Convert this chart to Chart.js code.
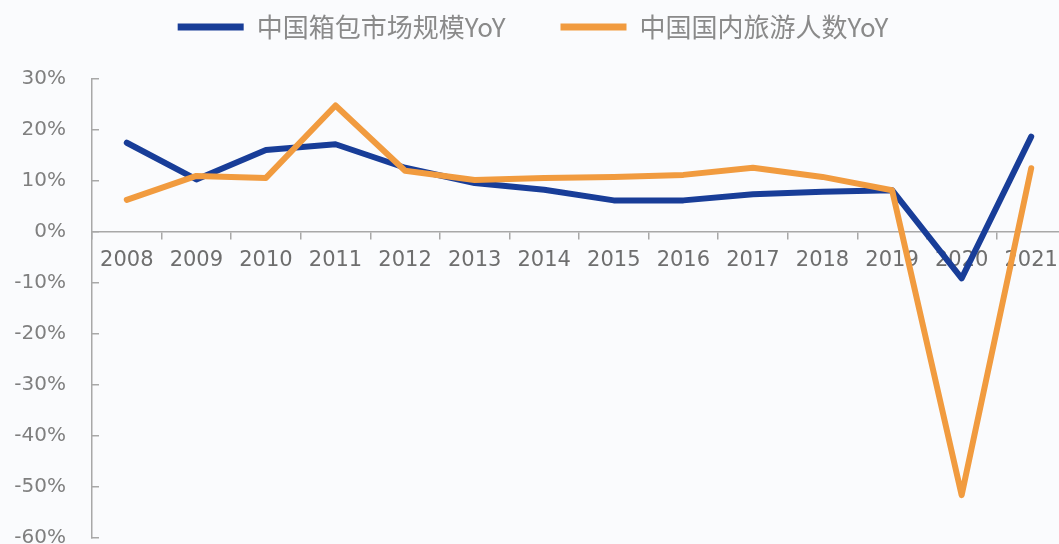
<!DOCTYPE html>
<html>
<head>
<meta charset="utf-8">
<script src="https://cdn.jsdelivr.net/npm/chart.js@4.4.1/dist/chart.umd.min.js"></script>
<style>
  html, body {
    margin: 0;
    padding: 0;
    width: 1059px;
    height: 544px;
    overflow: hidden;
    background: #fafbfd;
  }
  #wrap {
    position: absolute;
    left: 0;
    top: -41px;
    width: 1096px;
    height: 624px;
  }
</style>
</head>
<body>
<div id="wrap"><canvas id="yoyChart"></canvas></div>
<script>
const years = ["2008", "2009", "2010", "2011", "2012", "2013", "2014",
  "2015", "2016", "2017", "2018", "2019", "2020", "2021"];

// 中国箱包市场规模YoY (%)
const bagMarketYoY = [17.5, 10.3, 16.1, 17.2, 12.6, 9.6, 8.3,
  6.2, 6.2, 7.4, 7.9, 8.2, -9.1, 18.7];

// 中国国内旅游人数YoY (%)
const domesticTripsYoY = [6.3, 11.0, 10.6, 24.8, 12.0, 10.2, 10.6,
  10.8, 11.2, 12.6, 10.8, 8.2, -51.6, 12.5];

const seriesNames = ["中国箱包市场规模YoY", "中国国内旅游人数YoY"];
const yMin = -60;
const yMax = 30;
const yStep = 10;

const BLUE = "#183d98";
const ORANGE = "#f19b3f";
const AXIS = "#a8a8a8";

let myChart = null;

function loadChart() {
  let ctx = document.getElementById("yoyChart").getContext("2d");
  myChart = new Chart(ctx, {
    type: "line",
    data: {
      labels: years,
      datasets: [
        {
          label: seriesNames[0],
          data: bagMarketYoY,
          borderColor: BLUE,
          backgroundColor: BLUE,
          borderWidth: 6,
          borderCapStyle: "round",
          borderJoinStyle: "round",
          pointRadius: 0,
          tension: 0,
          order: 1,
        },
        {
          label: seriesNames[1],
          data: domesticTripsYoY,
          borderColor: ORANGE,
          backgroundColor: ORANGE,
          borderWidth: 6,
          borderCapStyle: "round",
          borderJoinStyle: "round",
          pointRadius: 0,
          tension: 0,
          order: 0,
        },
      ],
    },
    options: {
      responsive: true,
      maintainAspectRatio: false,
      animation: false,
      layout: { padding: { top: 0, right: 30, bottom: 0, left: 0 } },
      plugins: {
        tooltip: { enabled: false },
        // empty spacer between legend and plot
        subtitle: {
          display: true,
          text: " ",
          position: "top",
          weight: 500,
          padding: 0,
          font: { size: 29, lineHeight: 1 },
        },
        legend: {
          position: "top",
          labels: {
            usePointStyle: true,
            pointStyle: "line",
            pointStyleWidth: 66,
            padding: 55,
            color: "#8a8a8a",
            font: { family: "'Noto Sans CJK SC', 'Noto Sans'", size: 26 },
            sort: (a, b) => a.datasetIndex - b.datasetIndex,
            generateLabels: function (chart) {
              let items = Chart.defaults.plugins.legend.labels.generateLabels(chart);
              items.forEach((it) => { it.lineWidth = 7; });
              return items;
            },
          },
        },
      },
      scales: {
        x: {
          position: { y: 0 },
          offset: true,
          afterFit: (scale) => { scale.height = 40; },
          border: { display: true, color: AXIS, width: 1.5 },
          grid: {
            display: true,
            drawOnChartArea: false,
            drawTicks: true,
            tickLength: 7,
            color: AXIS,
            lineWidth: 1.5,
            offset: true,
          },
          ticks: {
            color: "#6e6e6e",
            padding: 9,
            maxRotation: 0,
            autoSkip: false,
            font: { family: "'DejaVu Sans'", size: 21 },
          },
        },
        y: {
          min: yMin,
          max: yMax,
          afterFit: (scale) => { scale.width = 92; },
          border: { display: true, color: AXIS, width: 1.5 },
          grid: {
            display: true,
            drawOnChartArea: false,
            drawTicks: true,
            tickLength: -7,
            color: AXIS,
            lineWidth: 1.5,
          },
          ticks: {
            stepSize: yStep,
            color: "#7f7f7f",
            padding: 33,
            font: { family: "'DejaVu Sans'", size: 20 },
            callback: (v) => v + "%",
          },
        },
      },
    },
  });
}

window.onload = function () {
  loadChart();
};
</script>
</body>
</html>
